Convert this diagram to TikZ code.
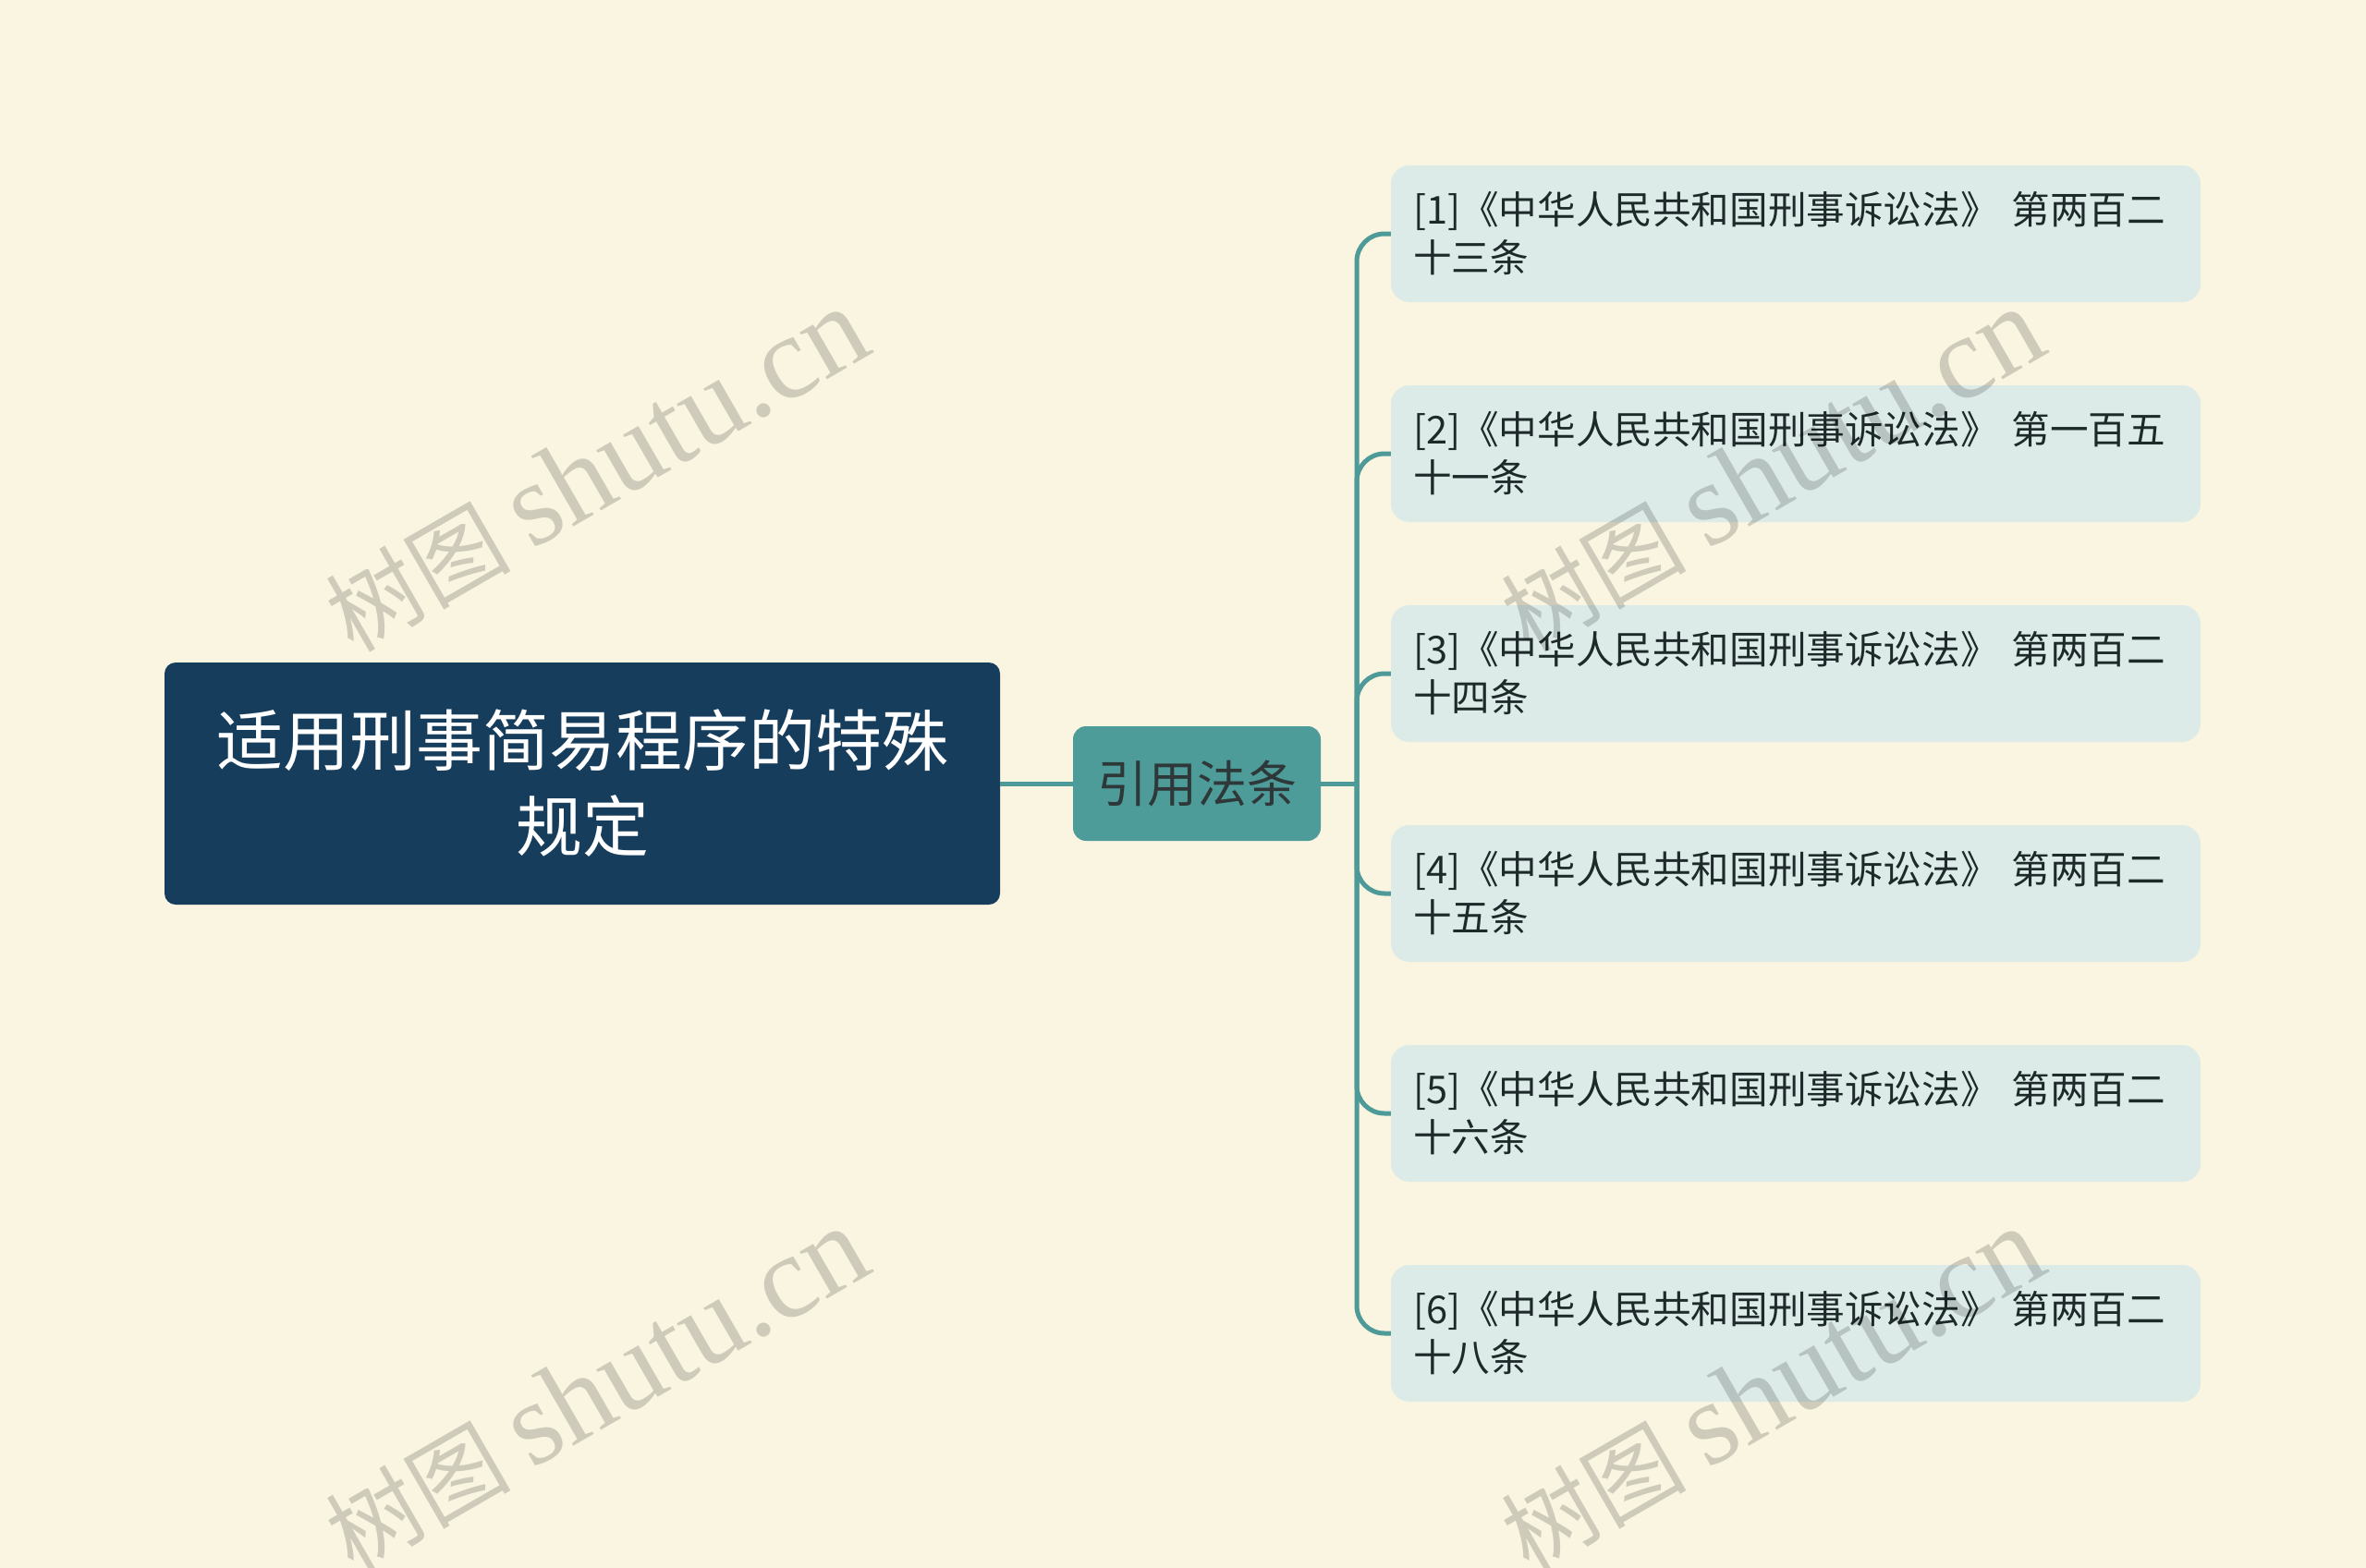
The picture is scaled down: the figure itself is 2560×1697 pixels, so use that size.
\documentclass[tikz,border=0pt]{standalone}
\usepackage{fontspec}
\setmainfont{Noto Sans CJK SC}
\newfontfamily\cjk{Noto Sans CJK SC}
\newfontfamily\wmlatin{Liberation Serif}
\usetikzlibrary{positioning}
\definecolor{bgc}{HTML}{FAF5E0}
\definecolor{rootc}{HTML}{173D5C}
\definecolor{childc}{HTML}{4E9C9A}
\definecolor{leafc}{HTML}{DCEBE8}
\definecolor{linec}{HTML}{4E9A98}
\definecolor{leaftext}{HTML}{1E2A2A}
\definecolor{childtext}{HTML}{2E3838}
\tikzset{
  rootbox/.style={rectangle, rounded corners=12pt, fill=rootc, text=white,
    minimum width=904pt, minimum height=262pt, align=center, inner sep=0pt,
    font=\fontsize{72}{93}\selectfont},
  childbox/.style={rectangle, rounded corners=14pt, fill=childc, text=childtext,
    minimum width=268pt, minimum height=124pt, align=center, inner sep=0pt,
    font=\fontsize{54}{60}\selectfont},
  leafbox/.style={rectangle, rounded corners=20pt, fill=leafc, text=leaftext,
    minimum height=148pt, inner xsep=24pt, inner ysep=0pt, text width=828pt, align=left,
    font=\fontsize{41.6}{52}\selectfont},
  conn/.style={draw=linec, line width=5pt},
  wmark/.style={rotate=30, text=black, text opacity=0.17, inner sep=0pt},
}
\begin{document}
\begin{tikzpicture}[x=1pt,y=-1pt]
\fill[bgc] (0,0) rectangle (2560,1697);
\useasboundingbox (0,0) rectangle (2560,1697);
\node[rootbox] (root) at (630,848) {适用刑事简易程序的特殊\\规定};
\node[childbox] (child) at (1295,848) {引用法条};
\node[leafbox] (l1) at (1943,253) {[1]《中华人民共和国刑事诉讼法》 第两百二\\十三条};
\node[leafbox] (l2) at (1943,491) {[2]《中华人民共和国刑事诉讼法》 第一百五\\十一条};
\node[leafbox] (l3) at (1943,729) {[3]《中华人民共和国刑事诉讼法》 第两百二\\十四条};
\node[leafbox] (l4) at (1943,967) {[4]《中华人民共和国刑事诉讼法》 第两百二\\十五条};
\node[leafbox] (l5) at (1943,1205) {[5]《中华人民共和国刑事诉讼法》 第两百二\\十六条};
\node[leafbox] (l6) at (1943,1443) {[6]《中华人民共和国刑事诉讼法》 第两百二\\十八条};
\coordinate (sp) at (1468,848);
\draw[conn] (root.east) -- (child.west);
\draw[conn] (child.east) -- (sp);
\foreach \i in {1,...,6}{
  \draw[conn, rounded corners=30pt] (sp) |- (l\i.west);
}
\foreach \p/\q in {645/509, 1917/509, 645/1504, 1917/1504}{
  \node[wmark] at (\p,\q) {\fontsize{100}{100}\selectfont\cjk 树图 \wmlatin\fontsize{128}{128}\selectfont shutu.cn};
}
\end{tikzpicture}
\end{document}
